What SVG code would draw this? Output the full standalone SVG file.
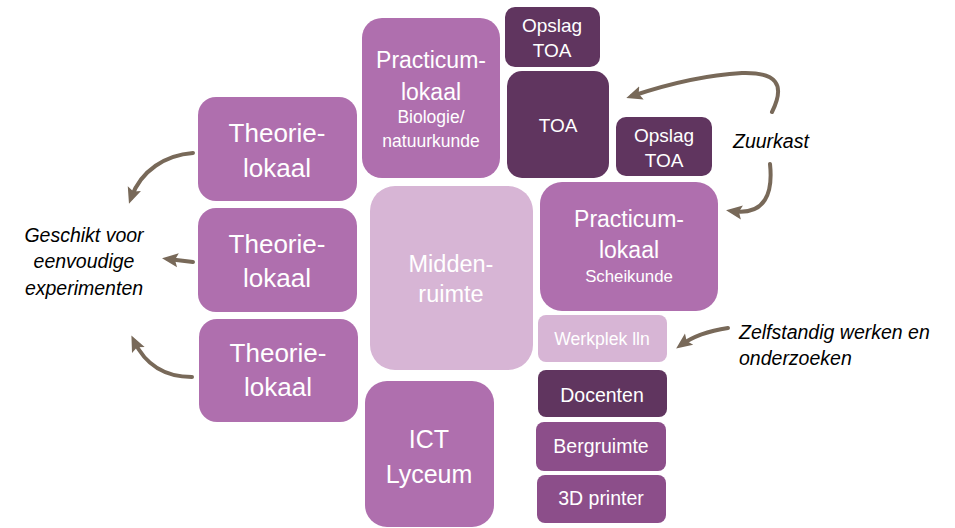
<svg xmlns="http://www.w3.org/2000/svg" width="955" height="528" viewBox="0 0 955 528">
<style>
.n text{font-family:"Liberation Sans",Arial,sans-serif;fill:#ffffff;text-anchor:middle}
.l1{fill:#af6fae}
.dk{fill:#60355f}
.md{fill:#8c4e8a}
.lt{fill:#d7b5d5}
.lbl{font-family:"Liberation Sans",Arial,sans-serif;font-style:italic;font-size:19.5px;fill:#000}
.c path{fill:none;stroke:#786959;stroke-width:4;stroke-linecap:round;marker-end:url(#ah)}
</style>
<defs>
<marker id="ah" markerUnits="userSpaceOnUse" markerWidth="18" markerHeight="16" refX="10" refY="8" orient="auto">
<path d="M0,1 L16,8 L0,15 L3,8 z" fill="#786959"/>
</marker>
</defs>
<rect width="955" height="528" fill="#ffffff"/>
<g id="prac-bio" class="n"><rect class="l1" x="362" y="18" width="138" height="160" rx="20"/>
<text x="431" y="68" font-size="23">Practicum-</text><text x="431" y="100" font-size="23">lokaal</text>
<text x="431" y="123" font-size="17.5">Biologie/</text><text x="431" y="147" font-size="17.5">natuurkunde</text></g>
<g id="opslag1" class="n"><rect class="dk" x="505" y="7" width="95" height="60" rx="10"/>
<text x="552" y="32" font-size="19">Opslag</text><text x="552" y="57" font-size="19">TOA</text></g>
<g id="toa" class="n"><rect class="dk" x="507" y="71" width="102" height="107" rx="15"/>
<text x="558" y="132" font-size="19">TOA</text></g>
<g id="opslag2" class="n"><rect class="dk" x="616" y="117" width="96" height="59" rx="10"/>
<text x="664" y="142" font-size="19">Opslag</text><text x="664" y="167" font-size="19">TOA</text></g>
<g id="theorie1" class="n"><rect class="l1" x="198" y="97" width="159" height="104" rx="18"/>
<text x="277" y="142" font-size="26">Theorie-</text><text x="277" y="177" font-size="26">lokaal</text></g>
<g id="theorie2" class="n"><rect class="l1" x="198" y="208" width="159" height="104" rx="18"/>
<text x="277" y="253" font-size="26">Theorie-</text><text x="277" y="287" font-size="26">lokaal</text></g>
<g id="theorie3" class="n"><rect class="l1" x="199" y="319" width="159" height="103" rx="18"/>
<text x="278" y="362" font-size="26">Theorie-</text><text x="278" y="396" font-size="26">lokaal</text></g>
<g id="midden" class="n"><rect class="lt" x="370" y="186" width="163" height="184" rx="25"/>
<text x="451" y="272" font-size="23.5">Midden-</text><text x="451" y="302" font-size="23.5">ruimte</text></g>
<g id="prac-schei" class="n"><rect class="l1" x="540" y="182" width="178" height="129" rx="22"/>
<text x="629" y="227" font-size="23">Practicum-</text><text x="629" y="258" font-size="23">lokaal</text>
<text x="629" y="282" font-size="16.8">Scheikunde</text></g>
<g id="werkplek" class="n"><rect class="lt" x="538" y="315" width="129" height="47" rx="8"/>
<text x="602" y="345" font-size="17.6">Werkplek lln</text></g>
<g id="ict" class="n"><rect class="l1" x="365" y="381" width="129" height="146" rx="22"/>
<text x="429" y="448" font-size="25">ICT</text><text x="429" y="483" font-size="25">Lyceum</text></g>
<g id="docenten" class="n"><rect class="dk" x="538" y="370" width="129" height="47" rx="8"/>
<text x="602" y="402" font-size="19.5">Docenten</text></g>
<g id="bergruimte" class="n"><rect class="md" x="536" y="422" width="130" height="49" rx="8"/>
<text x="601" y="453" font-size="19.5">Bergruimte</text></g>
<g id="printer" class="n"><rect class="md" x="537" y="475" width="129" height="48" rx="8"/>
<text x="601" y="505" font-size="19.5">3D printer</text></g>
<g id="labels">
<text class="lbl" x="84" y="242" text-anchor="middle">Geschikt voor</text>
<text class="lbl" x="84" y="268" text-anchor="middle">eenvoudige</text>
<text class="lbl" x="84" y="295" text-anchor="middle">experimenten</text>
<text class="lbl" x="733" y="148">Zuurkast</text>
<text class="lbl" x="739" y="339">Zelfstandig werken en</text>
<text class="lbl" x="739" y="365">onderzoeken</text>
</g>
<g id="connectors" class="c">
<path d="M772,112 C786,84 776,72 742,73 C705,75 665,85 632,96"/>
<path d="M770,164 C773,192 766,216 732,211"/>
<path d="M728,328 C708,331 692,337 681,345"/>
<path d="M193,153 C166,155 141,170 131,198"/>
<path d="M193,262 C185,261 176,260 168,259"/>
<path d="M192,377 C166,377 146,366 134,341"/>
</g>
</svg>
